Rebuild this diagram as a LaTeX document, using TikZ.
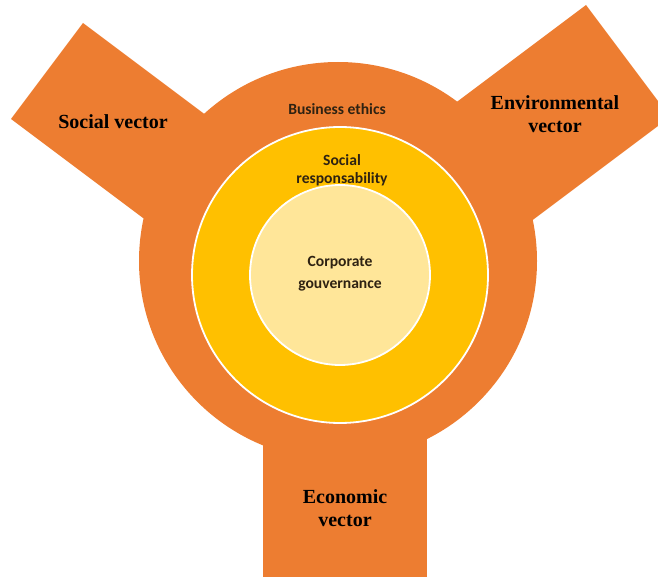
\documentclass[tikz,border=0pt]{standalone}
\usepackage{fontspec}
\setmainfont{Liberation Serif}
\newfontfamily\calfont{Carlito}
\definecolor{vecorange}{HTML}{ED7D31}
\definecolor{ringyellow}{HTML}{FFC000}
\definecolor{corelight}{HTML}{FFE699}
\definecolor{ringtext}{HTML}{2E2212}
\begin{document}
\begin{tikzpicture}[x=1pt,y=-1pt,
  arm/.style={fill=vecorange,draw=none},
  vectorlabel/.style={font=\bfseries\fontsize{20}{23}\selectfont,text=black,align=center,inner sep=0pt},
  ringlabel/.style={font=\calfont\bfseries\fontsize{15.6}{17.5}\selectfont,text=ringtext,align=center,inner sep=0pt},
  corelabel/.style={font=\calfont\bfseries\fontsize{15.6}{22}\selectfont,text=ringtext,align=center,inner sep=0pt}]
\useasboundingbox (0,0) rectangle (658,577);
\clip (0,0) rectangle (658,577);

\coordinate (outerc) at (338,261);
\coordinate (innerc) at (340,275);

% three vector arms, drawn beneath the rings
\fill[arm] (83,23) -- (11,119) -- (211,269) -- (283,173) -- cycle;
\fill[arm] (586,5) -- (670,117) -- (470,267) -- (386,155) -- cycle;
\fill[arm] (263,300) rectangle (427,580);

% concentric rings
\fill[vecorange] (outerc) circle (199pt);
\filldraw[fill=ringyellow,draw=white,line width=1.8pt] (innerc) circle (148pt);
\filldraw[fill=corelight,draw=white,line width=1.8pt] (innerc) circle (90pt);

% labels
\node[vectorlabel] (social) at (113,122) {Social vector};
\node[vectorlabel] (env) at (555,114.5) {Environmental\\vector};
\node[vectorlabel] (econ) at (345,508) {Economic\\vector};

\node[ringlabel] (ethics) at (337,109) {Business ethics};
\node[ringlabel] (resp) at (342,170.5) {Social\\responsability};
\node[corelabel] (gov) at (340,274) {Corporate\\gouvernance};
\end{tikzpicture}
\end{document}
